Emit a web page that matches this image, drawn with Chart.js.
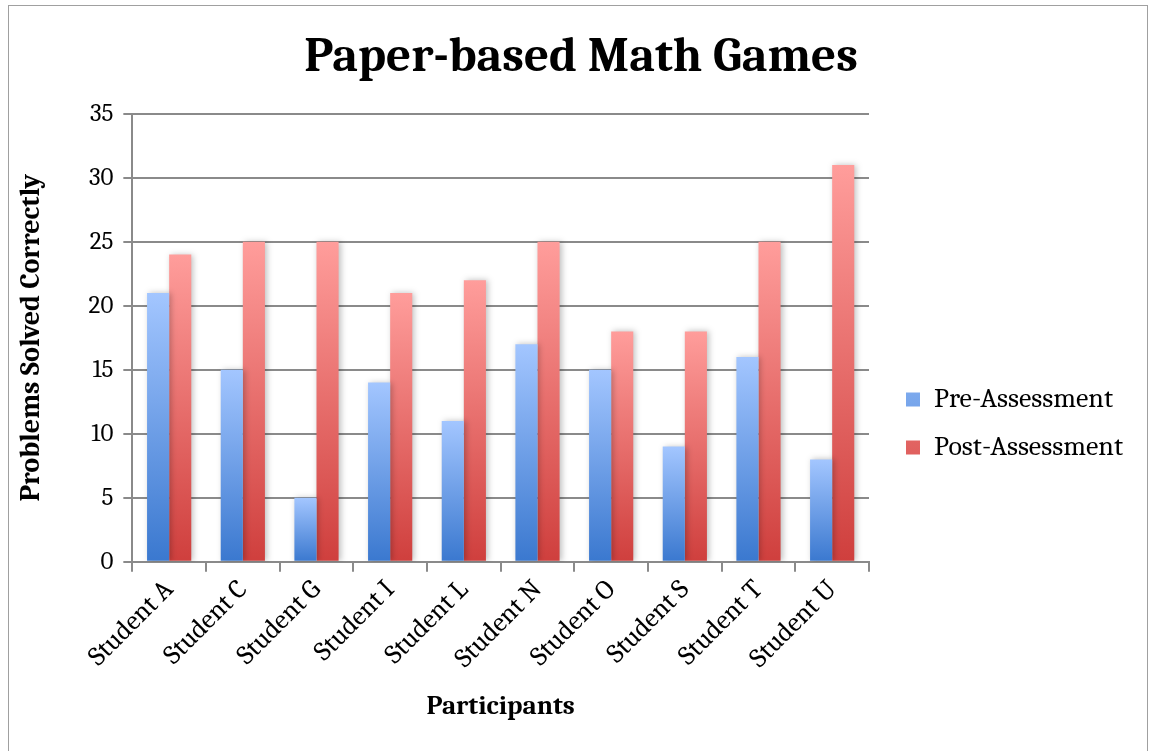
<!DOCTYPE html>
<html lang="en">
<head>
    <meta charset="UTF-8">
    <title>Paper-based Math Games</title>
    <style>
        body {
            margin: 0;
            background: #fff;
        }
        .frame {
            position: absolute;
            left: 8px;
            top: 5px;
            width: 1140px;
            height: 760px;
            border: 1px solid #a0a0a0;
            box-sizing: border-box;
        }
        #chart {
            position: absolute;
            left: 0;
            top: 0;
        }
    </style>
</head>
<body>
    <div class="frame"></div>
    <canvas id="chart" width="1153" height="751"></canvas>
    <script src="https://cdn.jsdelivr.net/npm/chart.js"></script>
    <script>
        const students = ['Student A', 'Student C', 'Student G', 'Student I', 'Student L',
                          'Student N', 'Student O', 'Student S', 'Student T', 'Student U'];
        const preScores = [21, 15, 5, 14, 11, 17, 15, 9, 16, 8];
        const postScores = [24, 25, 25, 21, 22, 25, 18, 18, 25, 31];

        const serif = 'Cambria, "Liberation Serif", "DejaVu Serif", serif';

        // vertical gradient per bar, light at the top, darker at the base
        function barGradient(light, dark) {
            return function (context) {
                const chart = context.chart;
                const y = chart.scales && chart.scales.y;
                if (!chart.chartArea || !y || context.raw === undefined) return light;
                const top = y.getPixelForValue(context.raw);
                const base = y.getPixelForValue(0);
                if (!(base > top)) return light;
                const g = chart.ctx.createLinearGradient(0, top, 0, base);
                g.addColorStop(0, light);
                g.addColorStop(1, dark);
                return g;
            };
        }

        const barShadow = {
            id: 'barShadow',
            beforeDatasetsDraw(chart) {
                const ctx = chart.ctx;
                ctx.save();
                ctx.shadowColor = 'rgba(0,0,0,0.25)';
                ctx.shadowBlur = 6;
                ctx.shadowOffsetX = 2;
                ctx.shadowOffsetY = 0;
            },
            afterDatasetsDraw(chart) {
                chart.ctx.restore();
            }
        };

        // nudge the legend a bit to the right, away from the plot
        const legendShift = {
            id: 'legendShift',
            afterLayout(chart) {
                if (chart.legend) {
                    chart.legend.left += 17;
                    chart.legend.right += 17;
                }
            }
        };

        new Chart(document.getElementById('chart'), {
            type: 'bar',
            data: {
                labels: students,
                datasets: [
                    {
                        label: 'Pre-Assessment',
                        data: preScores,
                        backgroundColor: barGradient('#a3c6ff', '#3a78cf')
                    },
                    {
                        label: 'Post-Assessment',
                        data: postScores,
                        backgroundColor: barGradient('#ff9d9b', '#cf3f3d')
                    }
                ]
            },
            plugins: [barShadow, legendShift],
            options: {
                responsive: false,
                animation: false,
                layout: {
                    padding: { left: 14, right: 37, top: 0, bottom: 24 }
                },
                datasets: {
                    bar: {
                        categoryPercentage: 0.6,
                        barPercentage: 1.0
                    }
                },
                plugins: {
                    title: {
                        display: true,
                        text: '   Paper-based Math Games',
                        color: '#000',
                        font: { family: serif, size: 49, weight: 'bold' },
                        padding: { top: 28, bottom: 27 }
                    },
                    legend: {
                        position: 'right',
                        title: {
                            display: true,
                            text: ' ',
                            font: { size: 10 },
                            padding: { top: 108, bottom: 0 }
                        },
                        labels: {
                            color: '#000',
                            font: { family: serif, size: 28 },
                            boxWidth: 14,
                            boxHeight: 14,
                            padding: 20
                        }
                    },
                    tooltip: { enabled: false }
                },
                scales: {
                    x: {
                        grid: {
                            offset: true,
                            drawOnChartArea: false,
                            color: '#8a8a8a',
                            lineWidth: 2,
                            tickLength: 10
                        },
                        border: { color: '#8a8a8a', width: 2 },
                        ticks: {
                            color: '#000',
                            font: { family: serif, size: 27 },
                            maxRotation: 45,
                            minRotation: 45,
                            padding: 2
                        },
                        title: {
                            display: true,
                            text: 'Participants',
                            color: '#000',
                            font: { family: serif, size: 27, weight: 'bold' },
                            padding: { top: 14 }
                        }
                    },
                    y: {
                        min: 0,
                        max: 35,
                        ticks: {
                            stepSize: 5,
                            color: '#000',
                            font: { family: serif, size: 25 },
                            padding: 10
                        },
                        grid: {
                            color: '#8a8a8a',
                            lineWidth: 2,
                            tickLength: 9
                        },
                        border: { color: '#8a8a8a', width: 2 },
                        title: {
                            display: true,
                            text: 'Problems Solved Correctly',
                            color: '#000',
                            font: { family: serif, size: 28, weight: 'bold' },
                            padding: { top: 0, bottom: 31 }
                        }
                    }
                }
            }
        });
    </script>
</body>
</html>
